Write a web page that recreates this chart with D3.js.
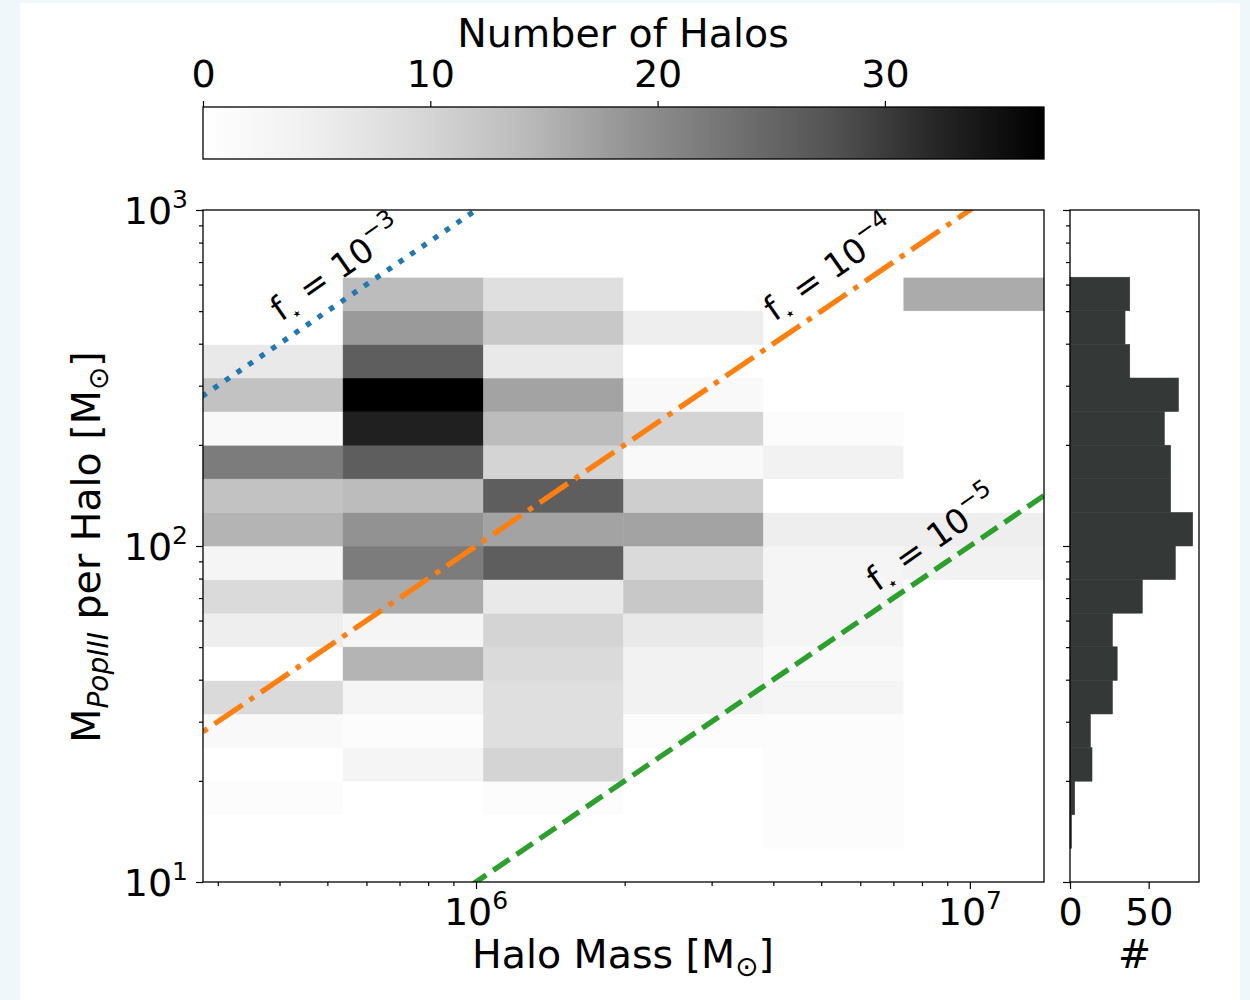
<!DOCTYPE html>
<html>
<head>
<meta charset="utf-8">
<script src="https://cdn.jsdelivr.net/npm/d3@7"></script>
<style>
body { margin: 0; background: #f0f7fa; }
svg text { font-family: "DejaVu Sans", sans-serif; fill: #000; }
</style>
</head>
<body>
<svg id="chart" width="1250" height="1000"></svg>
<script>
// halo mass bin edges [Msun], 6 log-spaced bins
var massEdges = [2.80e5, 5.38e5, 1.035e6, 1.99e6, 3.82e6, 7.35e6, 1.413e7];
// PopIII mass bin edges as log10 exponents (0.1 dex bins from 10 to 1000)
var popEdgeExp = [1.0, 1.1, 1.2, 1.3, 1.4, 1.5, 1.6, 1.7, 1.8, 1.9, 2.0,
                  2.1, 2.2, 2.3, 2.4, 2.5, 2.6, 2.7, 2.8, 2.9, 3.0];
// number of halos per cell, row 0 = lowest PopIII mass bin, columns = halo mass bins
var counts = [
  [0, 0, 0, 0, 0, 0],
  [0, 0, 0, 0, 1, 0],
  [1, 0, 1, 0, 1, 0],
  [0, 3, 10, 0, 1, 0],
  [2, 1, 8, 1, 1, 0],
  [9, 3, 8, 4, 3, 0],
  [0, 15, 9, 4, 2, 0],
  [5, 3, 10, 6, 3, 0],
  [9, 16, 6, 12, 3, 0],
  [3, 22, 26, 9, 3, 4],
  [15, 19, 17, 17, 5, 5],
  [13, 14, 26, 11, 0, 0],
  [22, 26, 10, 2, 4, 0],
  [2, 33, 14, 10, 1, 0],
  [13, 37, 17, 2, 0, 0],
  [6, 26, 6, 0, 0, 0],
  [0, 18, 12, 5, 0, 0],
  [0, 14, 8, 0, 0, 16],
  [0, 0, 0, 0, 0, 0],
  [0, 0, 0, 0, 0, 0]
];
// star formation efficiencies for the reference lines
var fstars = [1e-3, 1e-4, 1e-5];
var fstarExp = ["\u22123", "\u22124", "\u22125"];
var fstarColors = ["#1f77b4", "#ff7f0e", "#2ca02c"];
// label anchor (halo mass, PopIII mass) for each line
var fstarLabelMass = [4.03e5, 4.02e6, 6.49e6];
var fstarLabelPop = [464, 464, 73];

var cbarTicks = [0, 10, 20, 30];
var histTicks = [0, 50];
var greys = ["#ffffff", "#f0f0f0", "#d9d9d9", "#bdbdbd", "#969696",
             "#737373", "#525252", "#252525", "#000000"];

var svg = d3.select("#chart");
svg.append("rect").attr("x", 20).attr("y", 3).attr("width", 1220).attr("height", 997).attr("fill", "#fff");

var box = {left: 203, right: 1044, top: 210, bottom: 882};
var hbox = {left: 1070, right: 1199};
var fs = 37;     // tick labels
var lfs = 39.5;  // axis labels

var vmax = d3.max(counts, function(r) { return d3.max(r); });
var color = d3.scaleLinear()
    .domain(greys.map(function(d, i) { return vmax * i / 8; }))
    .range(greys);

var x = d3.scaleLog().domain([massEdges[0], massEdges[massEdges.length - 1]]).range([box.left, box.right]);
var y = d3.scaleLog().domain([10, 1000]).range([box.bottom, box.top]);
var popEdges = popEdgeExp.map(function(e) { return Math.pow(10, e); });

// heatmap cells
var cells = [];
counts.forEach(function(row, i) {
  row.forEach(function(c, j) {
    cells.push({r: i, c: j, n: c});
  });
});
svg.append("g").selectAll("rect")
  .data(cells)
  .enter().append("rect")
  .attr("x", function(d) { return x(massEdges[d.c]); })
  .attr("width", function(d) { return x(massEdges[d.c + 1]) - x(massEdges[d.c]); })
  .attr("y", function(d) { return y(popEdges[d.r + 1]); })
  .attr("height", function(d) { return y(popEdges[d.r]) - y(popEdges[d.r + 1]); })
  .attr("fill", function(d) { return color(d.n); })
  .attr("stroke", function(d) { return color(d.n); })
  .attr("stroke-width", 0.5);

// f_star lines
svg.append("clipPath").attr("id", "clip").append("rect")
  .attr("x", box.left).attr("y", box.top)
  .attr("width", box.right - box.left).attr("height", box.bottom - box.top);

var dashes = ["5.3,8.7", "33.9,8.5,5.3,8.5", "19.6,8.5"];
var mgrid = d3.range(0, 41).map(function(i) { return Math.pow(10, 5 + i * 0.075); });
var line = d3.line().x(function(d) { return x(d[0]); }).y(function(d) { return y(d[1]); });
fstars.forEach(function(f, k) {
  svg.append("path")
    .datum(mgrid.map(function(m) { return [m, f * m]; }))
    .attr("clip-path", "url(#clip)")
    .attr("d", line)
    .attr("fill", "none")
    .attr("stroke", fstarColors[k])
    .attr("stroke-width", 5.3)
    .attr("stroke-dasharray", dashes[k]);
});

// line labels
fstars.forEach(function(f, k) {
  var t = svg.append("text")
    .attr("transform", "translate(" + x(fstarLabelMass[k]) + "," + y(fstarLabelPop[k]) + ") rotate(-35)")
    .attr("font-size", 34);
  t.append("tspan").text("f");
  t.append("tspan").attr("dy", 8).attr("font-size", 18).text("\u22c6");
  t.append("tspan").attr("dy", -8).text(" = 10");
  t.append("tspan").attr("dy", -16).attr("font-size", 24).text(fstarExp[k]);
});

// main axes frame
svg.append("rect").attr("x", box.left).attr("y", box.top)
  .attr("width", box.right - box.left).attr("height", box.bottom - box.top)
  .attr("fill", "none").attr("stroke", "#000").attr("stroke-width", 1.3);

var yMajor = [10, 100, 1000];
var yMinor = [];
[10, 100].forEach(function(b) { for (var k = 2; k <= 9; k++) yMinor.push(b * k); });
var xMajor = [1e6, 1e7];
var xMinor = [];
[1e5, 1e6].forEach(function(b) {
  for (var k = 2; k <= 9; k++) { var v = b * k; if (v >= massEdges[0] && v <= massEdges[6]) xMinor.push(v); }
});

function styleAxis(g) {
  g.select(".domain").remove();
  g.selectAll(".tick line").attr("stroke", "#000").attr("stroke-width", 1.2);
}

svg.append("g").attr("transform", "translate(" + box.left + ",0)")
  .call(d3.axisLeft(y).tickValues(yMinor).tickSize(4).tickFormat("")).call(styleAxis);
svg.append("g").attr("transform", "translate(" + box.left + ",0)")
  .call(d3.axisLeft(y).tickValues(yMajor).tickSize(7).tickFormat("")).call(styleAxis);
svg.append("g").attr("transform", "translate(0," + box.bottom + ")")
  .call(d3.axisBottom(x).tickValues(xMinor).tickSize(4).tickFormat("")).call(styleAxis);
svg.append("g").attr("transform", "translate(0," + box.bottom + ")")
  .call(d3.axisBottom(x).tickValues(xMajor).tickSize(7).tickFormat("")).call(styleAxis);

function powLabel(t, exp) {
  t.append("tspan").text("10");
  t.append("tspan").attr("dy", -16).attr("font-size", 25).text(exp);
}
yMajor.forEach(function(v) {
  var t = svg.append("text").attr("x", box.left - 15).attr("y", y(v) + 14)
    .attr("text-anchor", "end").attr("font-size", fs + 1);
  powLabel(t, String(Math.round(Math.log10(v))));
});
xMajor.forEach(function(v) {
  var t = svg.append("text").attr("x", x(v)).attr("y", 925)
    .attr("text-anchor", "middle").attr("font-size", fs + 1);
  powLabel(t, String(Math.round(Math.log10(v))));
});

// axis labels
var xl = svg.append("text").attr("x", 623).attr("y", 968).attr("text-anchor", "middle").attr("font-size", lfs);
xl.append("tspan").text("Halo Mass [M");
xl.append("tspan").attr("dy", 8).attr("font-size", 28).text("\u2299");
xl.append("tspan").attr("dy", -8).text("]");

var yl = svg.append("text").attr("transform", "translate(100,547) rotate(-90)")
  .attr("text-anchor", "middle").attr("font-size", lfs);
yl.append("tspan").text("M");
yl.append("tspan").attr("dy", 8).attr("font-size", 28).attr("font-style", "italic").text("PopIII");
yl.append("tspan").attr("dy", -8).text(" per Halo [M");
yl.append("tspan").attr("dy", 8).attr("font-size", 28).text("\u2299");
yl.append("tspan").attr("dy", -8).text("]");

// side histogram (row sums)
var rowSums = counts.map(function(r) { return d3.sum(r); });
var hx = d3.scaleLinear().domain([0, 82]).range([hbox.left, hbox.right]);
svg.append("g").selectAll("rect")
  .data(rowSums)
  .enter().append("rect")
  .attr("x", hx(0))
  .attr("width", function(d) { return hx(d) - hx(0); })
  .attr("y", function(d, i) { return y(popEdges[i + 1]); })
  .attr("height", function(d, i) { return y(popEdges[i]) - y(popEdges[i + 1]); })
  .attr("fill", "#343837")
  .attr("stroke", "#343837")
  .attr("stroke-width", 0.5);

svg.append("rect").attr("x", hbox.left).attr("y", box.top)
  .attr("width", hbox.right - hbox.left).attr("height", box.bottom - box.top)
  .attr("fill", "none").attr("stroke", "#000").attr("stroke-width", 1.3);

svg.append("g").attr("transform", "translate(" + hbox.left + ",0)")
  .call(d3.axisLeft(y).tickValues(yMinor).tickSize(4).tickFormat("")).call(styleAxis);
svg.append("g").attr("transform", "translate(" + hbox.left + ",0)")
  .call(d3.axisLeft(y).tickValues(yMajor).tickSize(7).tickFormat("")).call(styleAxis);
var hax = svg.append("g").attr("transform", "translate(0," + box.bottom + ")")
  .call(d3.axisBottom(hx).tickValues(histTicks).tickSize(7).tickPadding(8)).call(styleAxis);
hax.selectAll("text").attr("font-size", fs + 1).attr("font-family", "DejaVu Sans").attr("dy", 0).attr("y", 43);
svg.append("text").attr("x", (hbox.left + hbox.right) / 2).attr("y", 968)
  .attr("text-anchor", "middle").attr("font-size", lfs).text("#");

// colorbar
var cb = {top: 107, bottom: 159};
var cx = d3.scaleLinear().domain([0, vmax]).range([box.left, box.right]);
var grad = svg.append("defs").append("linearGradient").attr("id", "cgrad");
greys.forEach(function(c, i) {
  grad.append("stop").attr("offset", (i / 8 * 100) + "%").attr("stop-color", c);
});
svg.append("rect").attr("x", box.left).attr("y", cb.top)
  .attr("width", box.right - box.left).attr("height", cb.bottom - cb.top)
  .attr("fill", "url(#cgrad)").attr("stroke", "#000").attr("stroke-width", 1.3);
var cax = svg.append("g").attr("transform", "translate(0," + cb.top + ")")
  .call(d3.axisTop(cx).tickValues(cbarTicks).tickSize(6)).call(styleAxis);
cax.selectAll("text").attr("font-size", fs + 1).attr("font-family", "DejaVu Sans").attr("dy", 0).attr("y", -20);
svg.append("text").attr("x", 623).attr("y", 47).attr("text-anchor", "middle")
  .attr("font-size", lfs).text("Number of Halos");
</script>
</body>
</html>
